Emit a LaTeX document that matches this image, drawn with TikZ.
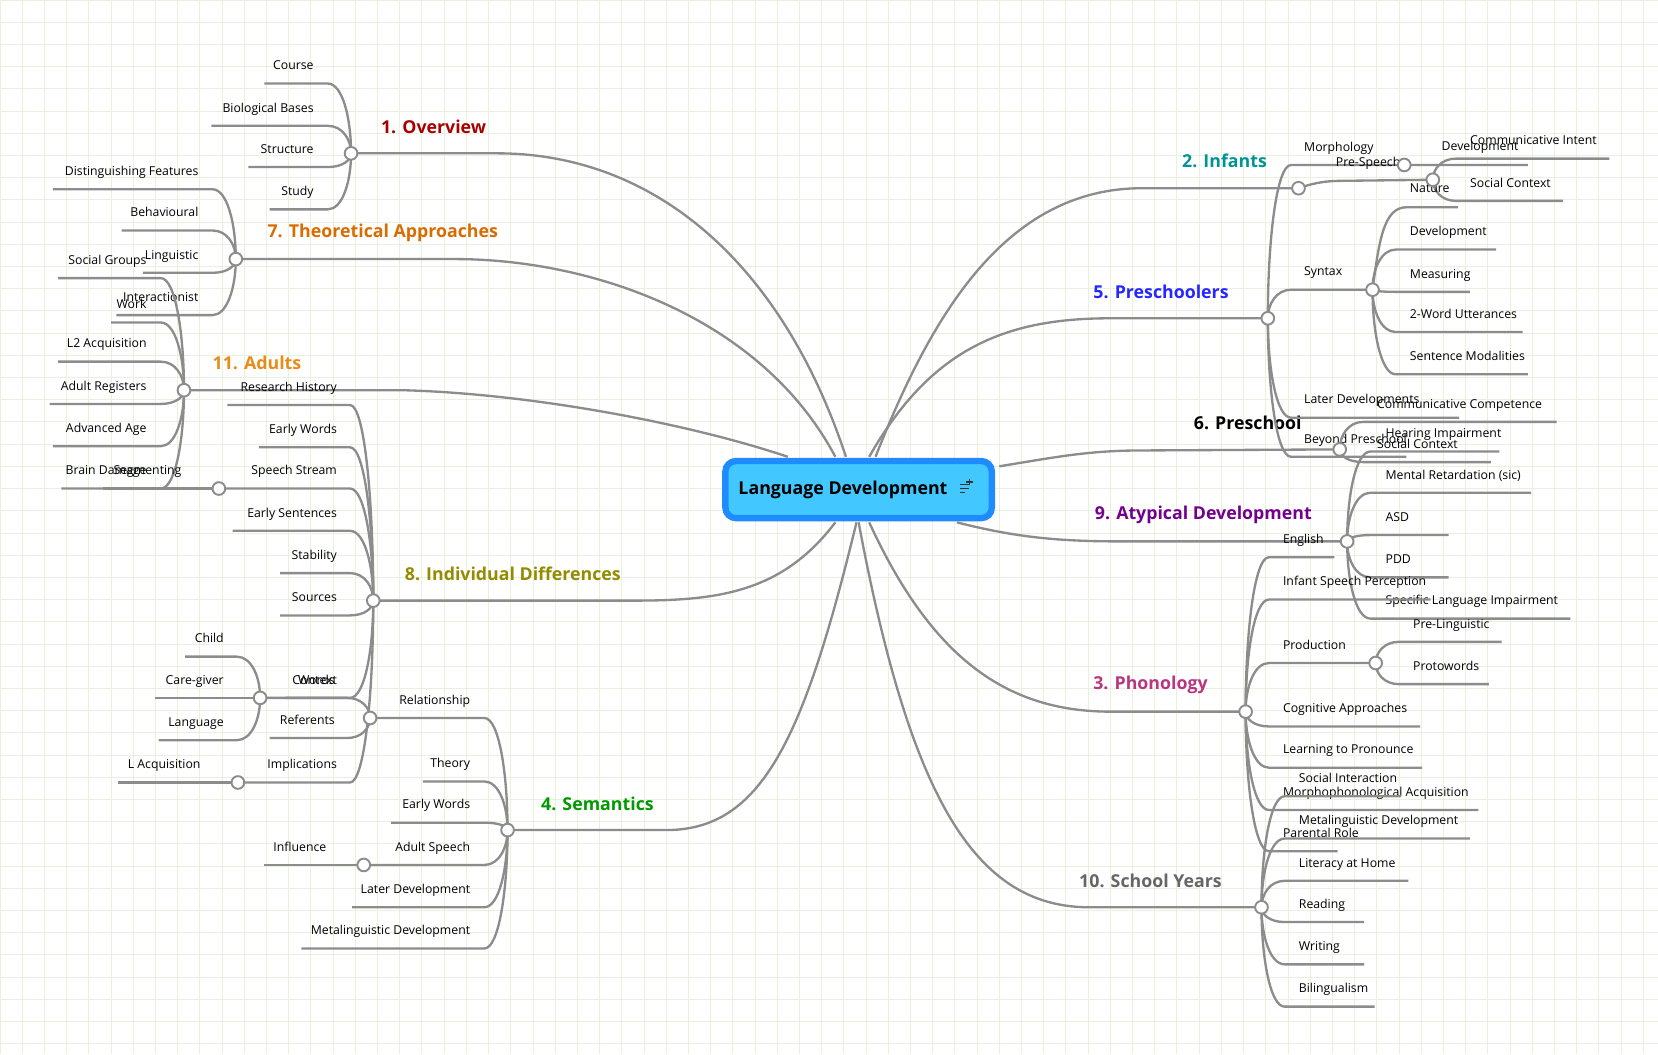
\documentclass[tikz,border=0pt]{standalone}
\usepackage{fontspec}
\setmainfont{Open Sans}
\definecolor{cfill}{RGB}{66,200,255}
\definecolor{cborder}{RGB}{30,140,255}
\definecolor{gridc}{RGB}{232,240,222}
\begin{document}
\begin{tikzpicture}[x=0.5pt,y=-0.5pt,
 ln/.style={draw=black!45,line width=1.1pt},
 leaf/.style={inner sep=0pt,font=\fontsize{5.8}{7}\selectfont},
 blab/.style={inner sep=0pt,font=\fontsize{8.4}{10}\selectfont\bfseries},
 junc/.style={circle,draw=black!45,fill=white,line width=0.9pt,minimum size=6pt,inner sep=0pt}]
\useasboundingbox (0,0) rectangle (1568,997);
\fill[white] (0,0) rectangle (1568,997);
\foreach \i in {0,21,...,1568} \draw[gridc,line width=0.4pt] (\i,0) -- (\i,997);
\foreach \i in {0,21,...,997} \draw[gridc,line width=0.4pt] (0,\i) -- (1568,\i);
\newcommand\LL[6]{\draw[ln] (#4,#3) -- ({#1-22},#3) .. controls ({#1-8},#3) and (#1,{#2+0.5*(#3-#2)}) .. (#1,#2);
 \node[leaf,anchor=base east] at (#5,{#3-13}) {#6};}
\newcommand\RL[6]{\draw[ln] (#1,#2) .. controls (#1,{#2+0.5*(#3-#2)}) and ({#1+8},#3) .. ({#1+22},#3) -- (#4,#3);
 \node[leaf,anchor=base west] at (#5,{#3-13}) {#6};}
% center
\node[draw=cborder,fill=cfill,rounded corners=5pt,line width=3pt,minimum width=126pt,minimum height=27pt] (c) at (812,463) {};
\node[blab,anchor=west] (ct) at (698,463) {Language Development};
\draw[black!80,line width=0.7pt] (908,458)--(916,458) (908,462)--(916,462) (908,466)--(913,466) (917,453)--(917,459) (914,456)--(920,456);
% junctions coordinates
\coordinate (J1) at (332,145); \coordinate (J7) at (223,245); \coordinate (J11) at (174,369);
\coordinate (J8) at (353,568); \coordinate (J4) at (480,785); \coordinate (J2) at (1228,178);
\coordinate (J5) at (1199,301); \coordinate (J6) at (1267,425); \coordinate (J9) at (1274,512);
\coordinate (J3) at (1178,673); \coordinate (J10) at (1193,858);
% main branches
\draw[ln] (800,432) .. controls (740,250) and (620,145) .. (470,145) -- (J1);
\draw[ln] (790,432) .. controls (720,300) and (560,245) .. (430,245) -- (J7);
\draw[ln] (745,432) .. controls (650,400) and (500,372) .. (380,369) -- (J11);
\draw[ln] (790,494) .. controls (740,560) and (680,568) .. (600,568) -- (J8);
\draw[ln] (810,494) .. controls (760,700) and (720,785) .. (630,785) -- (J4);
\draw[ln] (828,432) .. controls (880,300) and (950,178) .. (1080,178) -- (J2);
\draw[ln] (822,432) .. controls (880,330) and (950,301) .. (1050,301) -- (J5);
\draw[ln] (945,441) .. controls (1000,432) and (1030,426) .. (1080,426) -- (J6);
\draw[ln] (905,494) .. controls (960,508) and (1000,512) .. (1060,512) -- (J9);
\draw[ln] (822,494) .. controls (880,620) and (950,673) .. (1050,673) -- (J3);
\draw[ln] (812,494) .. controls (860,750) and (920,858) .. (1030,858) -- (J10);
% branch labels
\node[blab,text=red!65!black] (l1) at (410,120) {1. Overview};
\node[blab,text=orange!85!black] (l7) at (362,220) {7. Theoretical Approaches};
\node[blab,text=orange!60!brown!90!yellow] (l11) at (243,343) {11. Adults};
\node[blab,text=olive!95!yellow] (l8) at (485,543) {8. Individual Differences};
\node[blab,text=green!60!black] (l4) at (565,760) {4. Semantics};
\node[blab,text=teal!85!cyan] (l2) at (1158,152) {2. Infants};
\node[blab,text=blue!85!white] (l5) at (1098,276) {5. Preschoolers};
\node[blab,text=black] (l6) at (1180,400) {6. Preschool};
\node[blab,text=violet!90!blue] (l9) at (1138,487) {9. Atypical Development};
\node[blab,text=magenta!60!violet!90!black] (l3) at (1088,648) {3. Phonology};
\node[blab,text=black!60] (l10) at (1088,833) {10. School Years};
% Overview
\LL{332}{145}{79}{250}{297}{Course}
\LL{332}{145}{119}{200}{297}{Biological Bases}
\LL{332}{145}{158}{235}{297}{Structure}
\LL{332}{145}{198}{255}{297}{Study}
% Theoretical
\LL{223}{245}{179}{50}{188}{Distinguishing Features}
\LL{223}{245}{218}{115}{188}{Behavioural}
\LL{223}{245}{258}{135}{188}{Linguistic}
\LL{223}{245}{298}{110}{188}{Interactionist}
% Adults
\LL{174}{369}{263}{55}{139}{Social Groups}
\LL{174}{369}{305}{105}{139}{Work}
\LL{174}{369}{342}{55}{139}{L2 Acquisition}
\LL{174}{369}{382}{47}{139}{Adult Registers}
\LL{174}{369}{422}{50}{139}{Advanced Age}
\LL{174}{369}{462}{58}{139}{Brain Damage}
% Individual differences
\LL{353}{568}{383}{215}{319}{Research History}
\LL{353}{568}{423}{245}{319}{Early Words}
\LL{353}{568}{462}{207}{319}{Speech Stream}
\LL{353}{568}{502}{220}{319}{Early Sentences}
\LL{353}{568}{542}{265}{319}{Stability}
\LL{353}{568}{582}{265}{319}{Sources}
\LL{353}{568}{660}{246}{319}{Context}
\LL{353}{568}{740}{225}{319}{Implications}
\LL{207}{462}{462}{97}{172}{Segmenting}
\LL{246}{660}{621}{175}{212}{Child}
\LL{246}{660}{660}{147}{212}{Care-giver}
\LL{246}{660}{700}{150}{212}{Language}
\LL{225}{740}{740}{112}{190}{L Acquisition}
% Semantics
\LL{480}{785}{679}{350}{445}{Relationship}
\LL{480}{785}{739}{400}{445}{Theory}
\LL{480}{785}{778}{370}{445}{Early Words}
\LL{480}{785}{818}{344}{445}{Adult Speech}
\LL{480}{785}{858}{333}{445}{Later Development}
\LL{480}{785}{897}{285}{445}{Metalinguistic Development}
\LL{350}{679}{660}{270}{317}{Words}
\LL{350}{679}{698}{255}{317}{Referents}
\LL{344}{818}{818}{250}{309}{Influence}
% Infants
\draw[ln] (J2) .. controls (1240,174) and (1250,171) .. (1270,171) -- (1355,170);
\RL{1355}{170}{150}{1522}{1390}{Communicative Intent}
\RL{1355}{170}{190}{1478}{1390}{Social Context}
\node[leaf,anchor=base west] (n1) at (1333,182) {Nature};
\node[leaf,anchor=base west] (n2) at (1363,142) {Development};
% Preschoolers
\RL{1199}{301}{156}{1445}{1233}{Morphology}
\node[leaf,anchor=base west] (n3) at (1263,157) {Pre-Speech};
\RL{1199}{301}{274}{1298}{1233}{Syntax}
\RL{1199}{301}{395}{1380}{1233}{Later Developments}
\RL{1199}{301}{432}{1330}{1233}{Beyond Preschool}
\draw[ln] (1298,274) .. controls (1304,230) and (1308,196) .. (1330,196) -- (1379,196);
\RL{1298}{274}{236}{1415}{1333}{Development}
\RL{1298}{274}{276}{1390}{1333}{Measuring}
\RL{1298}{274}{314}{1440}{1333}{2-Word Utterances}
\RL{1298}{274}{354}{1445}{1333}{Sentence Modalities}
% Preschool
\RL{1267}{425}{399}{1472}{1302}{Communicative Competence}
\RL{1267}{425}{437}{1410}{1302}{Social Context}
% Atypical
\RL{1274}{512}{427}{1418}{1310}{Hearing Impairment}
\RL{1274}{512}{466}{1448}{1310}{Mental Retardation (sic)}
\RL{1274}{512}{506}{1370}{1310}{ASD}
\RL{1274}{512}{546}{1370}{1310}{PDD}
\RL{1274}{512}{585}{1485}{1310}{Specific Language Impairment}
% Phonology
\RL{1178}{673}{527}{1262}{1213}{English}
\RL{1178}{673}{567}{1353}{1213}{Infant Speech Perception}
\RL{1178}{673}{627}{1301}{1213}{Production}
\RL{1178}{673}{687}{1343}{1213}{Cognitive Approaches}
\RL{1178}{673}{726}{1345}{1213}{Learning to Pronounce}
\RL{1178}{673}{766}{1398}{1213}{Morphophonological Acquisition}
\RL{1178}{673}{805}{1265}{1213}{Parental Role}
\RL{1301}{627}{607}{1420}{1336}{Pre-Linguistic}
\RL{1301}{627}{647}{1408}{1336}{Protowords}
% School years
\RL{1193}{858}{753}{1325}{1228}{Social Interaction}
\RL{1193}{858}{793}{1390}{1228}{Metalinguistic Development}
\RL{1193}{858}{833}{1332}{1228}{Literacy at Home}
\RL{1193}{858}{872}{1290}{1228}{Reading}
\RL{1193}{858}{912}{1290}{1228}{Writing}
\RL{1193}{858}{952}{1300}{1228}{Bilingualism}
% junction circles
\foreach \p/\n in {J1/a,J7/b,J11/c,J8/d,J4/e,J2/f,J5/g,J6/h,J9/i,J3/j,J10/k}
  \node[junc] (jn\n) at (\p) {};
\foreach \x/\y/\n in {207/462/l,246/660/m,225/740/n,350/679/o,344/818/p,1328/156/q,1355/170/r,1298/274/s,1301/627/t}
  \node[junc] (jn\n) at (\x,\y) {};
\end{tikzpicture}
\end{document}
